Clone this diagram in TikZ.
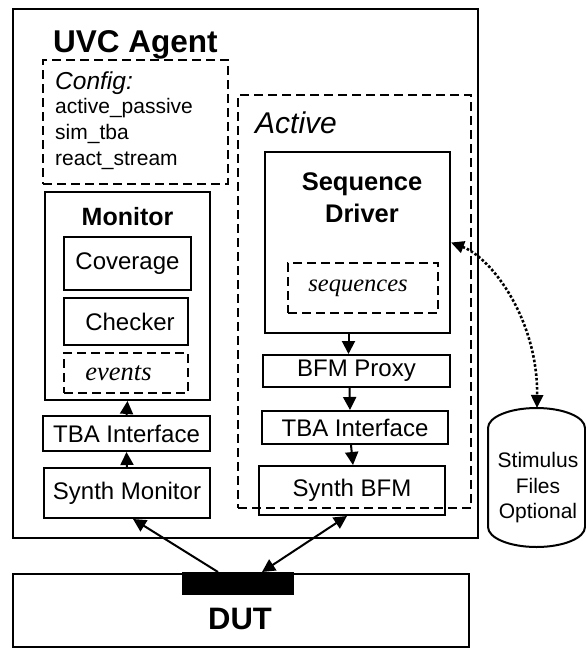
\documentclass[tikz,border=0pt]{standalone}
\usepackage{fontspec}
\setmainfont{Liberation Sans}
\newfontfamily\serifit{Liberation Serif}
\usetikzlibrary{arrows.meta}
\tikzset{
  lw/.style={line width=2pt},
  box/.style={draw, lw, rectangle, inner sep=0pt, font=\fontsize{24}{28}\selectfont},
  dbox/.style={box, dash pattern=on 9pt off 5pt},
  txt/.style={inner sep=0pt},
  arr/.style={lw, -{Triangle[length=13pt,width=13pt]}},
  darr/.style={lw, {Triangle[length=13pt,width=13pt]}-{Triangle[length=13pt,width=13pt]}},
}
\begin{document}
\begin{tikzpicture}[x=1pt,y=-1pt]
\useasboundingbox (0,0) rectangle (586,649);
% outer agent box
\node[box, minimum width=465pt, minimum height=529pt] (outer) at (245.5,273.5) {};
\node[txt, anchor=base west, font=\fontsize{31.5}{35}\selectfont\bfseries] (title) at (53,52) {UVC Agent};
% config
\node[dbox, minimum width=185pt, minimum height=124pt] (config) at (135.5,122) {};
\node[txt, anchor=base west, font=\fontsize{24.5}{28}\selectfont\itshape] (cfg1) at (55,89) {Config:};
\node[txt, anchor=base west, font=\fontsize{21}{25}\selectfont] (cfg2) at (55,113) {active\_passive};
\node[txt, anchor=base west, font=\fontsize{21}{25}\selectfont] (cfg3) at (55,139) {sim\_tba};
\node[txt, anchor=base west, font=\fontsize{21}{25}\selectfont] (cfg4) at (55,165) {react\_stream};
% monitor side
\node[box, minimum width=165pt, minimum height=208pt] (monitor) at (127.5,296) {};
\node[txt, anchor=base, font=\fontsize{25}{28}\selectfont\bfseries] (montitle) at (127.5,225) {Monitor};
\node[box, minimum width=127pt, minimum height=53pt] (coverage) at (127.5,263.5) {Coverage};
\node[box, minimum width=124pt, minimum height=47pt] (checker) at (126,321.5) {\hspace*{8pt}Checker};
\node[dbox, minimum width=124pt, minimum height=40pt] (events) at (126,373) {\hspace*{-15pt}\fontsize{26.5}{30}\serifit\itshape events};
\node[box, minimum width=167pt, minimum height=35pt] (tbaL) at (126.5,433.5) {TBA Interface};
\node[box, minimum width=166pt, minimum height=50pt] (synthM) at (127,493) {Synth Monitor};
% active side
\node[dbox, minimum width=233pt, minimum height=413pt] (active) at (354.5,301.5) {};
\node[txt, anchor=base west, font=\fontsize{30}{33}\selectfont\itshape] (acttitle) at (255,133) {Active};
\node[box, minimum width=185pt, minimum height=181pt] (seq) at (357.5,242.5) {};
\node[txt, anchor=base, font=\fontsize{25.5}{29}\selectfont\bfseries] (seqt1) at (362,190) {Sequence};
\node[txt, anchor=base, font=\fontsize{25.5}{29}\selectfont\bfseries] (seqt2) at (362,222) {Driver};
\node[dbox, minimum width=150pt, minimum height=50pt] (seqs) at (363,288) {\hspace*{-10pt}\fontsize{24.5}{28}\serifit\itshape sequences};
\node[box, minimum width=187pt, minimum height=32pt] (bfm) at (356.5,371) {BFM Proxy};
\node[box, minimum width=186pt, minimum height=33pt] (tbaR) at (355,427.5) {TBA Interface};
\node[box, minimum width=186pt, minimum height=49pt] (synthB) at (352,490.5) {Synth BFM};
% DUT
\node[box, minimum width=456pt, minimum height=73pt] (dut) at (241,610.5) {};
\node[draw, fill=black, lw, minimum width=110pt, minimum height=21pt, inner sep=0pt] (pad) at (238,583.5) {};
\node[txt, anchor=base, font=\fontsize{31}{34}\selectfont\bfseries] (duttext) at (240,629) {DUT};
% cylinder
\draw[lw] (488,428) arc[start angle=180, end angle=360, x radius=48.5, y radius=20]
  -- (585,527) arc[start angle=0, end angle=180, x radius=48.5, y radius=20] -- cycle;
\coordinate (cyl) at (537,408);
\node[txt, anchor=base, font=\fontsize{21}{25}\selectfont] (stim1) at (538,467) {Stimulus};
\node[txt, anchor=base, font=\fontsize{21}{25}\selectfont] (stim2) at (538,493) {Files};
\node[txt, anchor=base, font=\fontsize{21}{25}\selectfont] (stim3) at (538,518) {Optional};
% connectors
\draw[arr] (tbaL.north) -- (monitor.south);
\draw[arr] (synthM.north) -- (tbaL.south);
\draw[arr] ([xshift=-9pt]seq.south) -- ([xshift=-8pt]bfm.north);
\draw[arr] ([xshift=-7pt]bfm.south) -- ([xshift=-5pt]tbaR.north);
\draw[arr] ([xshift=-4pt]tbaR.south) -- ([xshift=1pt]synthB.north);
\draw[arr] ([xshift=-20pt]pad.north) -- ([xshift=6pt]synthM.south);
\draw[darr] ([xshift=24pt]pad.north) -- ([xshift=-5pt]synthB.south);
\draw[line width=2.6pt, dash pattern=on 2.6pt off 2pt, {Triangle[length=13pt,width=12pt]}-{Triangle[length=13pt,width=12pt]}]
  (seq.east) .. controls (492,258) and (538,320) .. (cyl);
\end{tikzpicture}
\end{document}
